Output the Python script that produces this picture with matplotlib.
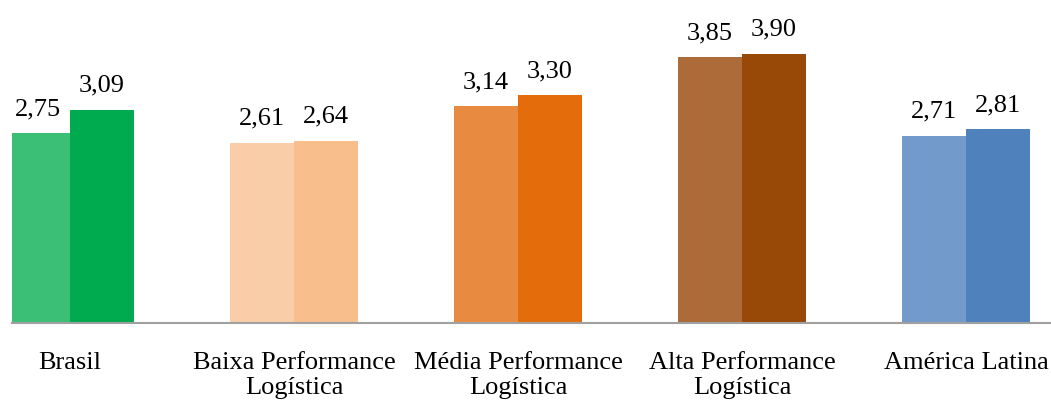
import numpy as np
import matplotlib
matplotlib.use('Agg')
import matplotlib.pyplot as plt

plt.rcParams['font.family'] = ['Liberation Serif', 'DejaVu Serif']

categorias = ['Brasil', 'Baixa Performance\nLogística', 'Média Performance\nLogística',
              'Alta Performance\nLogística', 'América Latina']
valores_1 = [2.75, 2.61, 3.14, 3.85, 2.71]
valores_2 = [3.09, 2.64, 3.30, 3.90, 2.81]
cores_1 = ['#3BBF76', '#F9CDA7', '#E88B40', '#AC6B38', '#729ACA']
cores_2 = ['#00AA4E', '#F8BE8C', '#E46C0A', '#984807', '#4F81BD']

fig = plt.figure(figsize=(10.51, 4.05), dpi=100)
ax = fig.add_axes([12 / 1051, 82 / 405, 1 - 12 / 1051, 323 / 405])

x = np.arange(len(categorias))
w = 0.286
b1 = ax.bar(x - w / 2, valores_1, w, color=cores_1)
b2 = ax.bar(x + w / 2, valores_2, w, color=cores_2)

# rótulos com vírgula decimal
for barras, vals in [(b1, valores_1), (b2, valores_2)]:
    for r, v in zip(barras, vals):
        ax.annotate(f'{v:.2f}'.replace('.', ','),
                    (r.get_x() + r.get_width() / 2, r.get_height()),
                    xytext=(0, 13), textcoords='offset points',
                    ha='center', va='baseline', fontsize=19)

ax.set_xlim(-0.259, 4.38)
ax.set_ylim(0, 4.68)
ax.set_xticks(x)
ax.set_xticklabels(categorias, fontsize=19, linespacing=1.15)
ax.tick_params(axis='x', length=0, pad=21)
ax.set_yticks([])
for s in ['top', 'left', 'right']:
    ax.spines[s].set_visible(False)
ax.spines['bottom'].set_color('#A0A0A0')
ax.spines['bottom'].set_linewidth(1.5)

fig.savefig('out.png', dpi=100)
